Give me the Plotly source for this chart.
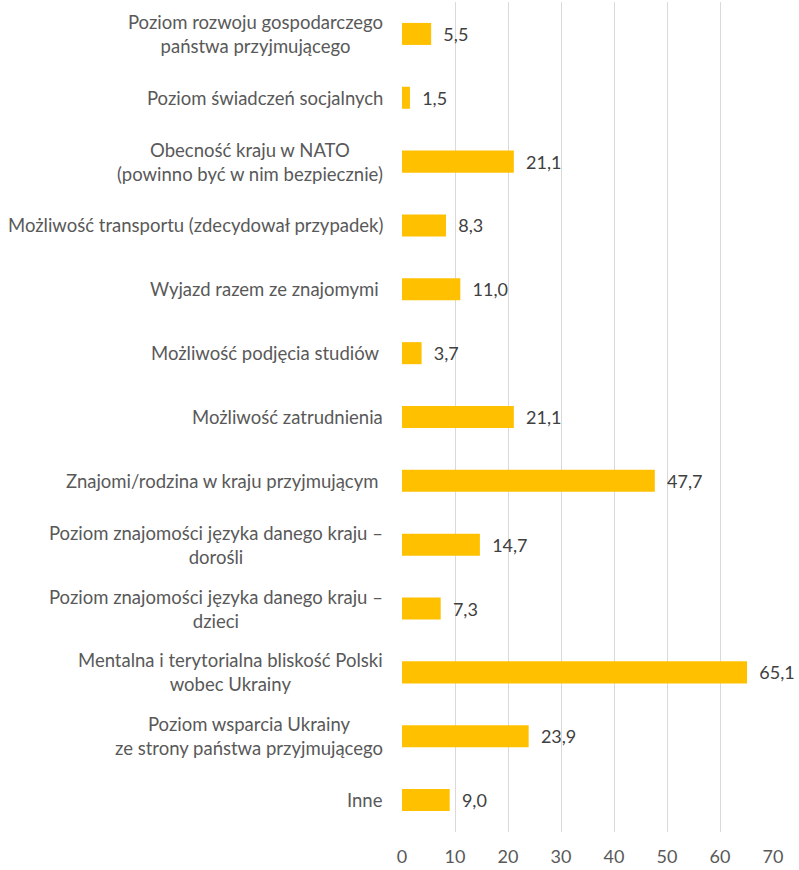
import plotly.graph_objects as go

categories = [
    "Poziom rozwoju gospodarczego<br>państwa przyjmującego",
    "Poziom świadczeń socjalnych",
    "Obecność kraju w NATO<br>(powinno być w nim bezpiecznie)",
    "Możliwość transportu (zdecydował przypadek)",
    "Wyjazd razem ze znajomymi\u00a0",
    "Możliwość podjęcia studiów\u00a0",
    "Możliwość zatrudnienia",
    "Znajomi/rodzina w kraju przyjmującym\u00a0",
    "Poziom znajomości języka danego kraju –<br>dorośli",
    "Poziom znajomości języka danego kraju –<br>dzieci",
    "Mentalna i terytorialna bliskość Polski<br>wobec Ukrainy",
    "Poziom wsparcia Ukrainy<br>ze strony państwa przyjmującego",
    "Inne",
]
values = [5.5, 1.5, 21.1, 8.3, 11.0, 3.7, 21.1, 47.7, 14.7, 7.3, 65.1, 23.9, 9.0]
x_ticks = [0, 10, 20, 30, 40, 50, 60, 70]

FONT = "Lato"
labels = ["\u00a0\u00a0" + f"{v:.1f}".replace(".", ",") for v in values]

fig = go.Figure()
fig.add_trace(go.Bar(
    x=values,
    y=list(range(len(categories))),
    orientation="h",
    marker=dict(color="#FFC000", line=dict(width=0)),
    text=labels,
    textposition="outside",
    textfont=dict(family=FONT, size=18, color="#404040"),
    cliponaxis=False,
    width=0.345,
    hoverinfo="skip",
))

for i, c in enumerate(categories):
    fig.add_annotation(
        x=-0.045, xref="paper", y=i, yref="y",
        text=c, showarrow=False, xanchor="right", yanchor="middle",
        align="center", font=dict(family=FONT, size=18.5, color="#595959"),
    )

fig.update_layout(
    width=799, height=870,
    margin=dict(l=402, r=26, t=2, b=38),
    paper_bgcolor="white", plot_bgcolor="white",
    showlegend=False,
    xaxis=dict(
        range=[0, 70], tickvals=x_ticks, showgrid=True, gridcolor="#D9D9D9",
        gridwidth=1, zeroline=False, showline=False,
        tickfont=dict(family=FONT, size=18, color="#595959"),
        ticklabelstandoff=12,
    ),
    yaxis=dict(
        range=[len(categories) - 0.5, -0.5], showticklabels=False,
        showgrid=False, zeroline=False, showline=False,
    ),
)

fig.write_html(
    "out.html",
    config={"displayModeBar": False},
    post_script="document.body.style.margin='0';",
)
